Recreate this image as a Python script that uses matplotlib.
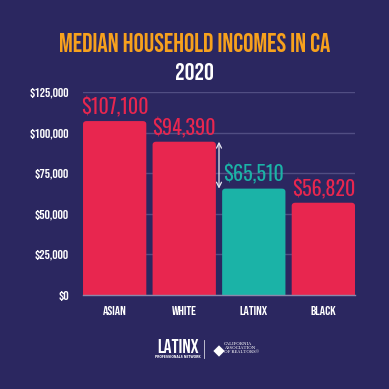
import matplotlib
matplotlib.use("Agg")
import matplotlib.pyplot as plt
from matplotlib.patches import FancyBboxPatch, Rectangle
from matplotlib.lines import Line2D

groups = ["ASIAN", "WHITE", "LATINX", "BLACK"]
incomes = [107100, 94390, 65510, 56820]
value_labels = ["$107,100", "$94,390", "$65,510", "$56,820"]
yticks = [0, 25000, 50000, 75000, 100000, 125000]
ytick_labels = ["$0", "$25,000", "$50,000", "$75,000", "$100,000", "$125,000"]

BG = "#2b2760"
RED = "#e8264f"
TEAL = "#1bb3a7"
ORANGE = "#f7a11d"
GRID = "#514e83"
bar_colors = [RED, RED, TEAL, RED]
HEAD = ["Bebas Neue", "DejaVu Sans"]
NUM = ["Oswald", "DejaVu Sans"]

fig = plt.figure(figsize=(3.89, 3.89), dpi=100, facecolor=BG)
ax = fig.add_axes([0.2134, 0.2416, 0.6992, 0.5219])
ax.set_facecolor(BG)

bars = ax.bar(range(len(groups)), incomes, width=0.91, color=bar_colors, zorder=3)
ax.set_xlim(-0.455, len(groups) - 0.545)
ax.set_ylim(0, 125000)

# swap the square bars for ones with rounded top corners
rx = 0.05
aspect = 1900 / rx
for b in bars:
    b.set_visible(False)
    p = FancyBboxPatch((b.get_x(), -3000), b.get_width(), b.get_height() + 3000,
                       boxstyle=f"round,pad=0,rounding_size={rx}",
                       mutation_aspect=aspect, fc=b.get_facecolor(), ec="none",
                       zorder=3)
    ax.add_patch(p)

for i, (v, lab) in enumerate(zip(incomes, value_labels)):
    ax.text(i, v + 4200, lab, ha="center", va="baseline", color=bar_colors[i],
            fontsize=14.5, family=NUM, zorder=4)

# gap arrow between white and latinx
ax.annotate("", xy=(1.5, incomes[1]), xytext=(1.5, incomes[2]),
            arrowprops=dict(arrowstyle="<->", color="#e6e6f0", lw=0.9,
                            mutation_scale=9, shrinkA=0, shrinkB=0), zorder=4)

ax.set_yticks(yticks)
ax.set_yticklabels(ytick_labels, family=HEAD, fontsize=9.5, color="white")
ax.set_xticks(range(len(groups)))
ax.set_xticklabels(groups, family=HEAD, fontsize=9.5, color="white")
ax.tick_params(length=0)
ax.tick_params(axis="y", pad=10)
ax.tick_params(axis="x", pad=8)
ax.yaxis.grid(True, color=GRID, lw=1.0, zorder=0)
ax.set_axisbelow(True)
for s in ["top", "right", "left"]:
    ax.spines[s].set_visible(False)
ax.spines["bottom"].set_color("#8a88aa")
ax.spines["bottom"].set_linewidth(1.0)
ax.spines["bottom"].set_zorder(5)

fig.text(0.5, 1 - 52 / 389, "MEDIAN HOUSEHOLD INCOMES IN CA", ha="center",
         va="baseline", color=ORANGE, fontsize=18.5, family=HEAD)
fig.text(0.5, 1 - 80 / 389, "2020", ha="center", va="baseline",
         color="white", fontsize=17.5, family=HEAD)

# footer logos
fig.text(178 / 389, 1 - 353 / 389, "LATINX", ha="center", va="baseline",
         color="white", fontsize=14, family=HEAD)
fig.text(178 / 389, 1 - 357.5 / 389, "PROFESSIONALS NETWORK", ha="center",
         va="baseline", color="white", fontsize=2.2, fontweight="bold",
         family="DejaVu Sans")
fig.add_artist(Line2D([204 / 389, 204 / 389], [1 - 358 / 389, 1 - 340 / 389],
                      color="white", lw=0.6, alpha=0.8))
fig.add_artist(Rectangle((215 / 389, 1 - 355 / 389), 8 / 389, 8 / 389,
                         angle=45, rotation_point="center", fc="white",
                         ec="none"))
for k, line in enumerate(["CALIFORNIA", "ASSOCIATION", "OF REALTORS®"]):
    fig.text(224 / 389, 1 - (345 + k * 4.2) / 389, line, ha="left",
             va="baseline", color="white", fontsize=2.8,
             family=["Libre Baskerville", "DejaVu Serif"])

fig.savefig("out.png", dpi=100, facecolor=BG)
